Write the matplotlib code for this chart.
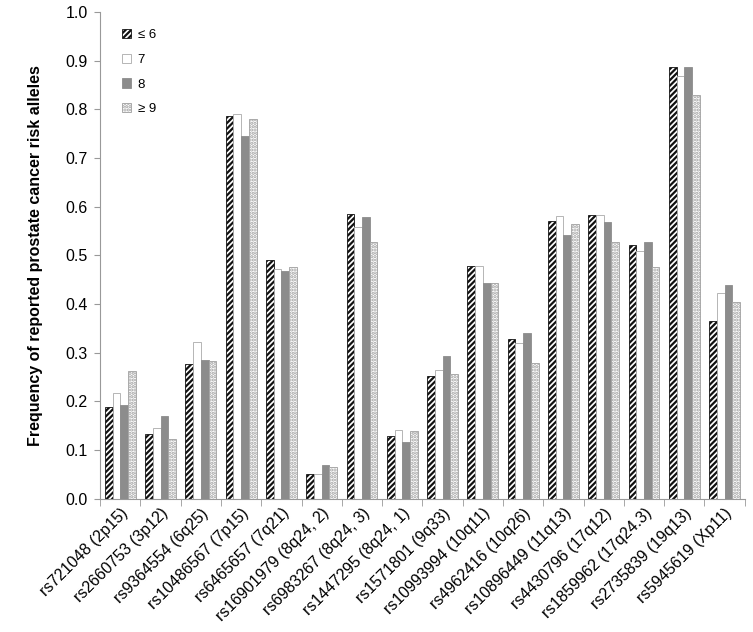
import numpy as np
import matplotlib
matplotlib.use("Agg")
import matplotlib.pyplot as plt
from matplotlib.ticker import FixedLocator, FormatStrFormatter

plt.rcParams['font.family'] = ['Liberation Sans', 'DejaVu Sans']
plt.rcParams['hatch.linewidth'] = 1.6

snps = ["rs721048 (2p15)", "rs2660753 (3p12)", "rs9364554 (6q25)", "rs10486567 (7p15)",
        "rs6465657 (7q21)", "rs16901979 (8q24, 2)", "rs6983267 (8q24, 3)", "rs1447295 (8q24, 1)",
        "rs1571801 (9q33)", "rs10993994 (10q11)", "rs4962416 (10q26)", "rs10896449 (11q13)",
        "rs4430796 (17q12)", "rs1859962 (17q24.3)", "rs2735839 (19q13)", "rs5945619 (Xp11)"]

le6 = [0.188, 0.132, 0.277, 0.787, 0.491, 0.051, 0.585, 0.128,
       0.253, 0.478, 0.329, 0.571, 0.583, 0.521, 0.887, 0.366]
n7 = [0.217, 0.145, 0.322, 0.790, 0.472, 0.051, 0.559, 0.142,
      0.264, 0.478, 0.320, 0.581, 0.583, 0.509, 0.868, 0.423]
n8 = [0.193, 0.170, 0.285, 0.745, 0.467, 0.069, 0.579, 0.116,
      0.293, 0.444, 0.341, 0.541, 0.568, 0.527, 0.888, 0.440]
ge9 = [0.262, 0.122, 0.283, 0.781, 0.477, 0.065, 0.528, 0.138,
       0.257, 0.444, 0.278, 0.565, 0.527, 0.475, 0.830, 0.404]

series = [("≤ 6", le6), ("7", n7), ("8", n8), ("≥ 9", ge9)]
# (facecolor, edgecolor, hatch)
styles = [("white", "#111111", "//////"),
          ("white", "#aaaaaa", None),
          ("#8c8c8c", "#8c8c8c", None),
          ("white", "#a0a0a0", ".....")]

fig = plt.figure(figsize=(7.53, 6.32), dpi=100)
ax = fig.add_axes([0.133, 0.211, 0.856, 0.770])

x = np.arange(len(snps))
w = 0.192
for i, ((lab, vals), (fc, ec, hatch)) in enumerate(zip(series, styles)):
    ax.bar(x + (i - 1.5) * w, vals, w, label=lab, facecolor=fc,
           edgecolor=ec, hatch=hatch, linewidth=0.6)

ax.set_xlim(-0.5, len(snps) - 0.5)
ax.set_ylim(0, 1.0)
ax.set_yticks(np.arange(0, 1.01, 0.1))
ax.yaxis.set_major_formatter(FormatStrFormatter('%.1f'))
ax.tick_params(axis='y', labelsize=11.5, length=4, color='#999999', pad=5)

ax.set_xticks(x)
ax.set_xticklabels(snps, rotation=45, ha='right', rotation_mode='anchor', fontsize=11.5)
ax.tick_params(axis='x', which='major', length=0, pad=5)
ax.xaxis.set_minor_locator(FixedLocator(np.arange(-0.5, len(snps), 1.0)))
ax.tick_params(axis='x', which='minor', length=5, color='#999999')

for s in ['top', 'right']:
    ax.spines[s].set_visible(False)
ax.spines['left'].set_color('#999999')
ax.spines['bottom'].set_color('#999999')

ax.set_ylabel("Frequency of reported prostate cancer risk alleles",
              fontsize=11.5, fontweight='bold', labelpad=16)

ax.legend(loc='upper left', bbox_to_anchor=(0.015, 0.99), frameon=False,
          fontsize=9.5, handlelength=0.7, handleheight=0.7, handletextpad=0.5,
          labelspacing=0.95)

fig.savefig("out.png", dpi=100)
